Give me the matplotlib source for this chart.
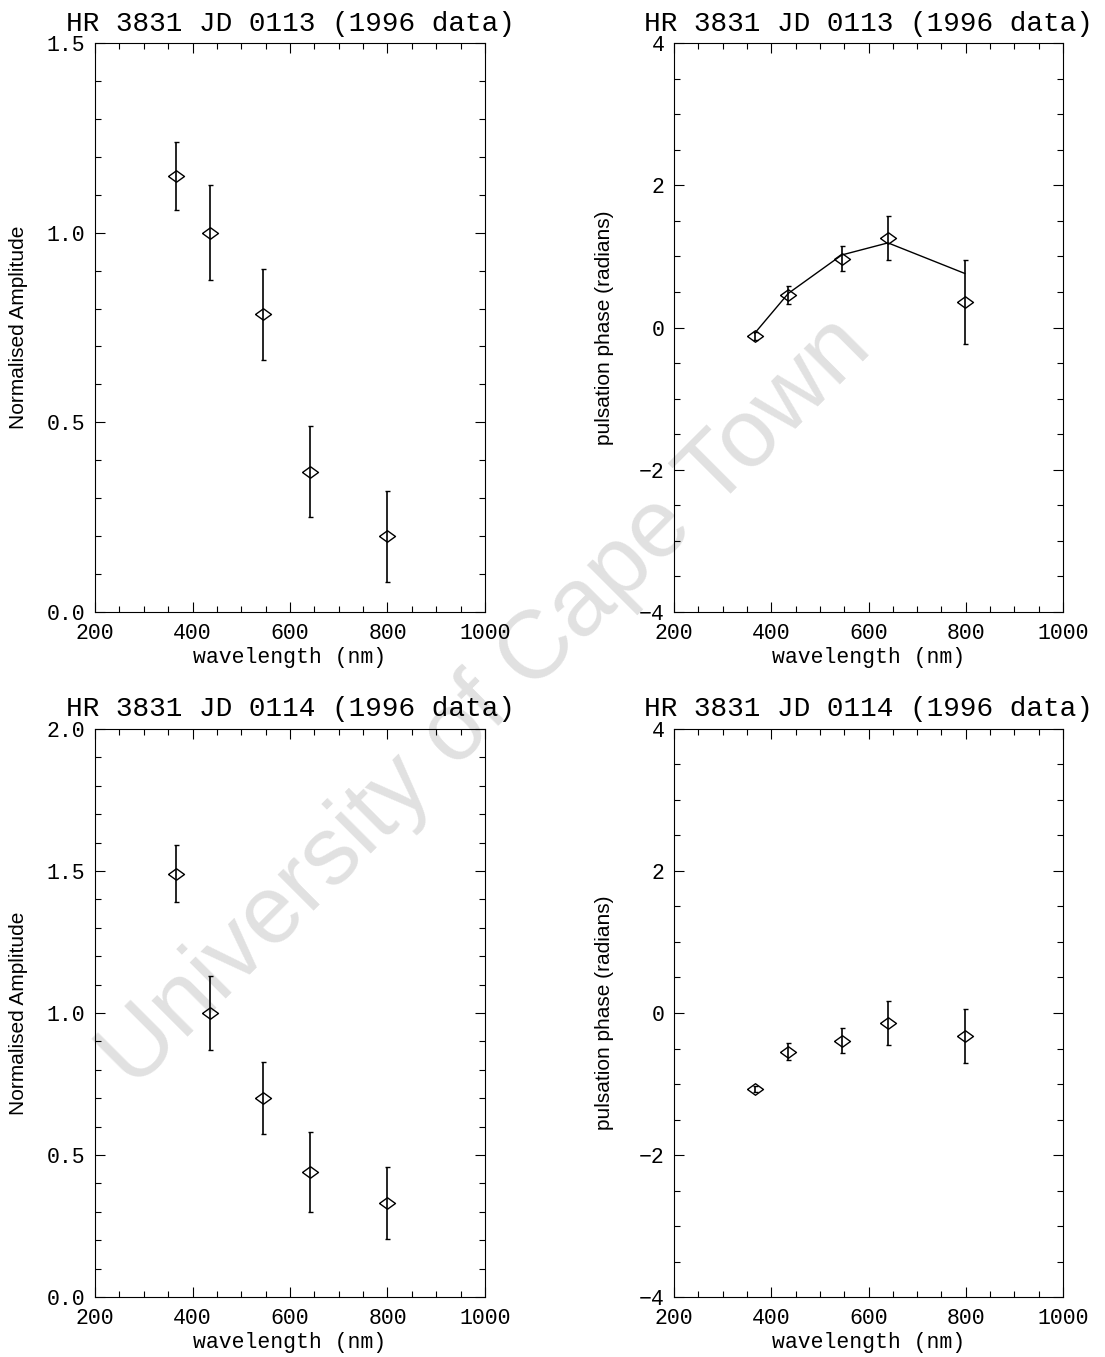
import matplotlib
matplotlib.use("Agg")
import matplotlib.pyplot as plt
from matplotlib.ticker import MultipleLocator

# Wavelengths of the five filters (nm)
wavelength = [366, 435, 545, 640, 798]

# JD 0113
amp_0113 = [1.15, 1.00, 0.785, 0.37, 0.20]
amp_0113_err = [0.09, 0.125, 0.12, 0.12, 0.12]
phase_0113 = [-0.12, 0.46, 0.97, 1.26, 0.36]
phase_0113_err = [0.05, 0.13, 0.17, 0.31, 0.59]
phase_0113_fit = [-0.08, 0.48, 1.02, 1.19, 0.76]

# JD 0114
amp_0114 = [1.49, 1.00, 0.70, 0.44, 0.33]
amp_0114_err = [0.10, 0.13, 0.127, 0.14, 0.127]
phase_0114 = [-1.07, -0.545, -0.39, -0.145, -0.32]
phase_0114_err = [0.04, 0.12, 0.18, 0.31, 0.38]

titles = ["HR 3831 JD 0113 (1996 data)", "HR 3831 JD 0114 (1996 data)"]

mono = "Liberation Mono"
sans = "Liberation Sans"

# open diamond, a bit wider than tall
diamond = [(-1, 0), (0, 0.72), (1, 0), (0, -0.72), (-1, 0)]

fig = plt.figure(figsize=(11.05, 13.57), dpi=100)

positions = {
    "tl": [0.0860, 0.5490, 0.3529, 0.4193],
    "tr": [0.6100, 0.5490, 0.3520, 0.4193],
    "bl": [0.0860, 0.0442, 0.3529, 0.4186],
    "br": [0.6100, 0.0442, 0.3520, 0.4186],
}


def style_axes(ax, title, ylabel, ymin, ymax, ymajor, yminor, ylab_x):
    ax.set_xlim(200, 1000)
    ax.set_ylim(ymin, ymax)
    ax.xaxis.set_major_locator(MultipleLocator(200))
    ax.xaxis.set_minor_locator(MultipleLocator(50))
    ax.yaxis.set_major_locator(MultipleLocator(ymajor))
    ax.yaxis.set_minor_locator(MultipleLocator(yminor))
    ax.tick_params(which="both", direction="in", top=True, right=True,
                   width=0.8, labelsize=15.5)
    ax.tick_params(which="major", length=7.5)
    ax.tick_params(which="minor", length=4)
    ax.tick_params(axis="x", pad=8)
    ax.tick_params(axis="y", pad=7)
    for lab in ax.get_xticklabels() + ax.get_yticklabels():
        lab.set_family(mono)
    for sp in ax.spines.values():
        sp.set_linewidth(0.8)
    ax.set_title(title, fontsize=20, family=mono, pad=9)
    ax.set_xlabel("wavelength (nm)", fontsize=15.5, family=mono)
    ax.xaxis.set_label_coords(0.5, -0.062)
    ax.set_ylabel(ylabel, fontsize=15, family=sans)
    ax.yaxis.set_label_coords(ylab_x, 0.5)


def points(ax, y, yerr):
    ax.errorbar(wavelength, y, yerr=yerr, fmt="none", ecolor="black",
                elinewidth=1.2, capsize=1.8, capthick=1.0)
    ax.plot(wavelength, y, linestyle="none", marker=diamond, markersize=11.5,
            markerfacecolor="none", markeredgecolor="black",
            markeredgewidth=1.0)


ax = fig.add_axes(positions["tl"])
points(ax, amp_0113, amp_0113_err)
style_axes(ax, titles[0], "Normalised Amplitude", 0, 1.5, 0.5, 0.1, -0.172)

ax = fig.add_axes(positions["tr"])
ax.plot(wavelength, phase_0113_fit, color="black", linewidth=1.0)
points(ax, phase_0113, phase_0113_err)
style_axes(ax, titles[0], "pulsation phase (radians)", -4, 4, 2, 0.5, -0.154)

ax = fig.add_axes(positions["bl"])
points(ax, amp_0114, amp_0114_err)
style_axes(ax, titles[1], "Normalised Amplitude", 0, 2.0, 0.5, 0.1, -0.172)

ax = fig.add_axes(positions["br"])
points(ax, phase_0114, phase_0114_err)
style_axes(ax, titles[1], "pulsation phase (radians)", -4, 4, 2, 0.5, -0.154)

# diagonal watermark across the page
fig.text(0.440, 0.482, "University of Cape Town", family=sans, fontsize=70,
         color="black", alpha=0.12, rotation=45, ha="center", va="center",
         rotation_mode="anchor", zorder=10)

fig.savefig("out.png", dpi=100, facecolor="white")
